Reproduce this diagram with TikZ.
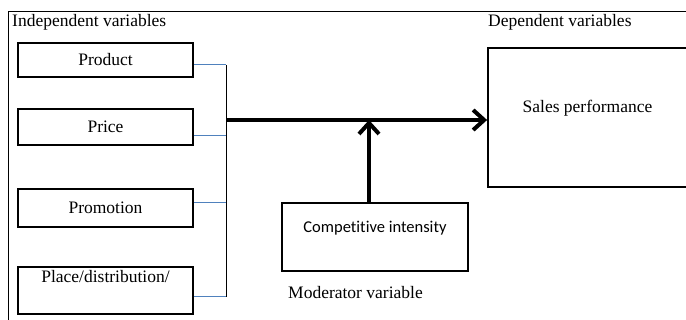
\documentclass[tikz,border=0pt]{standalone}
\usepackage{fontspec}
\setmainfont{Liberation Serif}
\newfontfamily\sansfam[Ligatures=NoCommon]{Carlito}
\usetikzlibrary{arrows.meta, positioning}
\definecolor{linkblue}{RGB}{79,129,189}
\tikzstyle{varbox} = [draw, line width=1.8pt, minimum width=175pt, inner sep=0pt]
\tikzstyle{plain} = [inner sep=0pt]
\tikzstyle{link} = [draw=linkblue, line width=1pt]
\tikzstyle{bigarrow} = [line width=4pt, -{Straight Barb[length=11pt,width=20pt]}]

\begin{document}
\begin{tikzpicture}[x=1pt, y=-1pt, font=\rmfamily\fontsize{17.5}{20}\selectfont]
        \useasboundingbox (0,0) rectangle (686,320);
        \clip (0,0) rectangle (686,320);
        \draw [line width=0.9pt] (8.5,11) rectangle (700,330);
        \node (indep) [plain, anchor=west] at (12,22) {Independent variables};
        \node (dep) [plain, anchor=west] at (488,22) {Dependent variables};
        % the four inputs
        \node (product) [varbox, minimum height=34pt] at (105.5,60) {Product};
        \node (price) [varbox, minimum height=36pt] at (105.5,127) {Price};
        \node (promo) [varbox, minimum height=38pt] at (105.5,208) {Promotion};
        \node (place) [varbox, minimum height=47pt] at (105.5,290.5) {};
        \node (placetxt) [plain] at (105.5,277) {Place/distribution/};
        % outcome and moderator
        \node (sales) [varbox, minimum width=220pt, minimum height=139pt] at (598,117.5) {};
        \node (salestxt) [plain] at (587.5,108) {Sales performance};
        \node (compet) [varbox, minimum width=186pt, minimum height=68.5pt] at (375,237) {};
        \node (compettxt) [plain, font=\sansfam\fontsize{16.5}{19}\selectfont] at (375,228) {Competitive intensity};
        \node (moder) [plain, anchor=west] at (288,293) {Moderator variable};
        \coordinate (b1) at (226,65);
        \coordinate (b2) at (226,136);
        \coordinate (b3) at (226,203);
        \coordinate (b4) at (226,297);
        \coordinate (hub) at (226,120);
        \coordinate (join) at (369,120);
        \draw [link] (b1 -| product.east) -- (b1);
        \draw [link] (b2 -| price.east) -- (b2);
        \draw [link] (b3 -| promo.east) -- (b3);
        \draw [link] (b4 -| place.east) -- (b4);
        \draw [line width=0.8pt] (b1) -- (b4);
        \draw [bigarrow] (hub) -- (hub -| sales.west);
        \draw [bigarrow] (compet.north -| join) -- (join);
\end{tikzpicture}
\end{document}
